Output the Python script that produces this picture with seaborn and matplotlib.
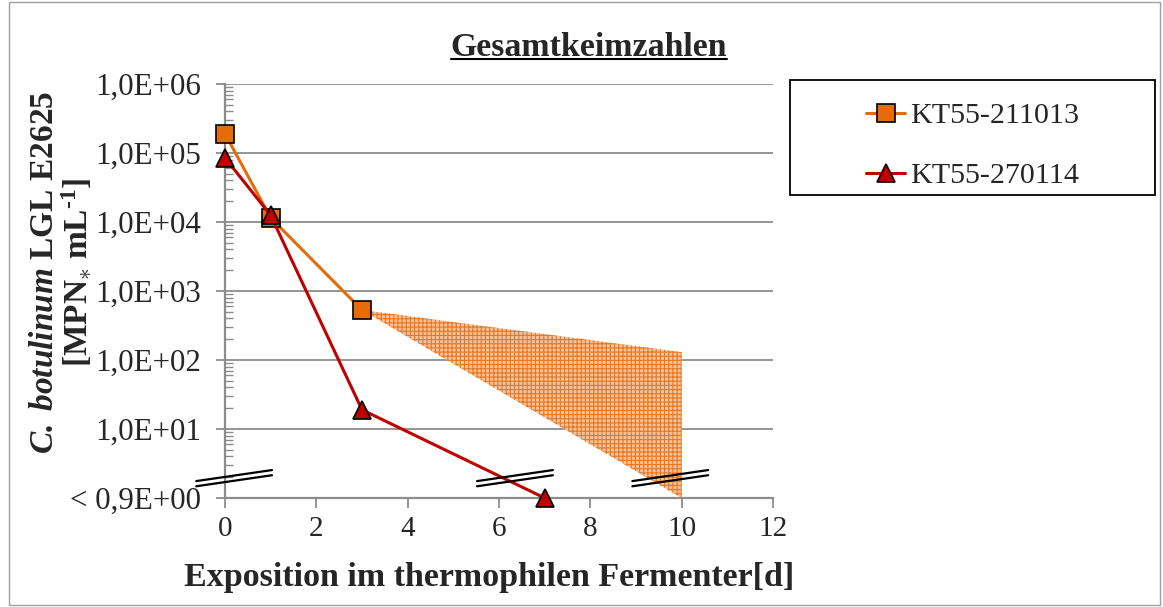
import numpy as np
import pandas as pd
import matplotlib
matplotlib.use("Agg")
import matplotlib.pyplot as plt
import seaborn as sns
from matplotlib.lines import Line2D
from matplotlib.patches import Rectangle
from matplotlib.ticker import FixedLocator, LogLocator, NullFormatter

# data
series_names = ["KT55-211013", "KT55-270114"]
days_a = [0, 1, 3]
mpn_a = [1.9e5, 1.15e4, 5.3e2]
days_b = [0, 1, 3, 7]
mpn_b = [8.5e4, 1.25e4, 19, 1.0]
# projected range for KT55-211013 after day 3
range_days = [3, 10, 10]
range_mpn = [5.3e2, 1.3e2, 1.0]

ytick_vals = [1, 1e1, 1e2, 1e3, 1e4, 1e5, 1e6]
ytick_labels = ["< 0,9E+00", "1,0E+01", "1,0E+02", "1,0E+03",
                "1,0E+04", "1,0E+05", "1,0E+06"]
xtick_vals = [0, 2, 4, 6, 8, 10, 12]
break_days = [0.2, 6.35, 9.75]   # axis-break marks near the bottom

colors = ["#E46C0A", "#C00000"]
markers = ["s", "^"]

df = pd.concat([
    pd.DataFrame({"day": days_a, "mpn": mpn_a, "series": series_names[0]}),
    pd.DataFrame({"day": days_b, "mpn": mpn_b, "series": series_names[1]}),
])

sns.set_style("white")
plt.rcParams["font.family"] = ["Liberation Serif", "DejaVu Serif"]
plt.rcParams["mathtext.fontset"] = "custom"
plt.rcParams["mathtext.rm"] = "Liberation Serif"
plt.rcParams["mathtext.it"] = "Liberation Serif:italic"
plt.rcParams["mathtext.bf"] = "Liberation Serif:bold"
plt.rcParams["mathtext.bfit"] = "Liberation Serif:italic:bold"
plt.rcParams["hatch.linewidth"] = 0.8

fig = plt.figure(figsize=(11.63, 6.07), dpi=100)
ax = fig.add_axes([225 / 1163, 1 - 498 / 607, 548 / 1163, 414 / 607])

# hatched range
ax.fill(range_days, range_mpn, facecolor="#F7C29A", edgecolor="#E87722",
        hatch="++++", linewidth=0, zorder=1)

sns.lineplot(data=df, x="day", y="mpn", hue="series", style="series",
             markers=markers, dashes=False, palette=colors, markersize=13,
             markeredgecolor="black", markeredgewidth=1.2, linewidth=2.2,
             errorbar=None, legend=False, ax=ax, zorder=3)
for ln in ax.lines:
    ln.set_clip_on(False)

ax.set_yscale("log")
ax.set_ylim(1, 1e6)
ax.set_xlim(0, 12)
ax.yaxis.set_major_locator(FixedLocator(ytick_vals))
ax.set_yticklabels(ytick_labels)
ax.yaxis.set_minor_locator(LogLocator(base=10, subs=np.arange(2, 10)))
ax.yaxis.set_minor_formatter(NullFormatter())
ax.set_xticks(xtick_vals)
ax.set_xticklabels([str(v) for v in xtick_vals])

ax.grid(axis="y", which="major", color="#8C8C8C", linewidth=1.3)
ax.grid(axis="x", visible=False)
for s in ["top", "right"]:
    ax.spines[s].set_visible(False)
for s in ["left", "bottom"]:
    ax.spines[s].set_color("#8C8C8C")
    ax.spines[s].set_linewidth(1.6)
ax.tick_params(axis="y", which="major", direction="out", length=6.5, width=1.3,
               color="#8C8C8C", labelsize=22.3, pad=11, left=True)
ax.tick_params(axis="y", which="minor", direction="in", length=6, width=1.0,
               color="#8C8C8C", left=True)
ax.tick_params(axis="x", which="major", direction="out", length=7, width=1.3,
               color="#8C8C8C", labelsize=21, pad=6, bottom=True)

ax.set_xlabel("Exposition im thermophilen Fermenter[d]", fontsize=24.5,
              fontweight="bold", va="center")
ax.xaxis.set_label_coords(0.482, -0.191)
ax.set_ylabel("")

# axis-break marks
for bx in break_days:
    for off in (0.0, 0.075):
        xs = [bx - 0.83, bx + 0.83]
        ys = [10 ** (0.17 + off), 10 ** (0.33 + off)]
        ax.plot(xs, ys, color="black", linewidth=1.6, clip_on=False, zorder=5)

# y label in two lines
fig.text(45 / 1163, 1 - 272 / 607,
         r"$\mathbfit{C.\ botulinum}$ LGL E2625",
         rotation=90, ha="center", va="center", fontsize=24, fontweight="bold")
fig.text(77 / 1163, 1 - 272 / 607,
         "[MPN$_{\\ast}$ mL$^{\\mathbf{\u2010 1}}$]",
         rotation=90, ha="center", va="center", fontsize=24, fontweight="bold")

# title with underline
title = fig.text(589 / 1163, 1 - 47 / 607, "Gesamtkeimzahlen", ha="center",
                 va="center", fontsize=24.4, fontweight="bold")
fig.canvas.draw()
bb = title.get_window_extent().transformed(fig.transFigure.inverted())
fig.add_artist(Line2D([bb.x0, bb.x1], [bb.y0 + 0.005, bb.y0 + 0.005],
                      transform=fig.transFigure, color="black", linewidth=1.5))

# legend box and entries
lx0, lx1, ly0, ly1 = 790 / 1163, 1155 / 1163, 1 - 195 / 607, 1 - 80 / 607
fig.add_artist(Rectangle((lx0, ly0), lx1 - lx0, ly1 - ly0,
                         transform=fig.transFigure, fill=False,
                         edgecolor="black", linewidth=1.3))
handles = [Line2D([], [], color=c, marker=m, markersize=13,
                  markeredgecolor="black", markeredgewidth=1.2, linewidth=2.2)
           for c, m in zip(colors, markers)]
fig.legend(handles, series_names, loc="center",
           bbox_to_anchor=((lx0 + lx1) / 2, (ly0 + ly1) / 2 - 8 / 607),
           fontsize=21.6, frameon=False, handlelength=1.3, handletextpad=0.15,
           labelspacing=1.1, borderaxespad=0)

# outer chart border
fig.add_artist(Rectangle((9 / 1163, 0.003), 1 - 12 / 1163, 0.994,
                         transform=fig.transFigure, fill=False,
                         edgecolor="#A0A0A0", linewidth=1.0))

fig.savefig("out.png", dpi=100)
